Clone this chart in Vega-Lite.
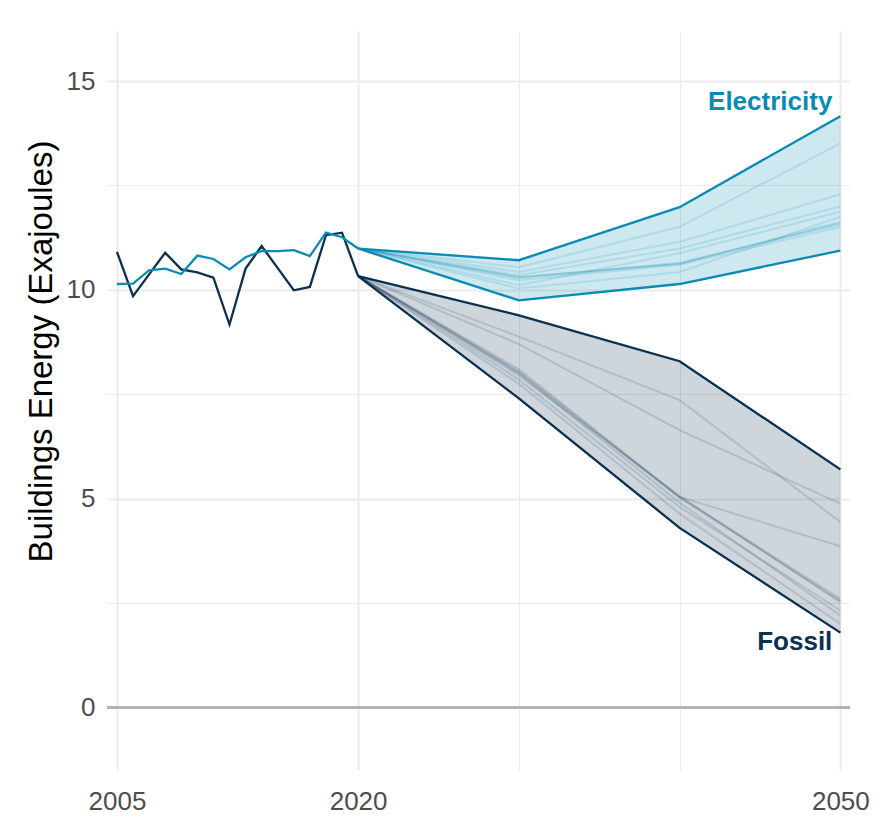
{
  "$schema": "https://vega.github.io/schema/vega-lite/v6.json",
  "width": 743,
  "height": 739,
  "autosize": {"type": "none"},
  "padding": {"left": 107, "top": 31, "right": 41, "bottom": 52},
  "background": "white",
  "config": {"view": {"stroke": null}, "font": "Liberation Sans"},
  "datasets": {
    "hist": [
      {"year": 2005, "type": "Fossil", "value": 10.91},
      {"year": 2006, "type": "Fossil", "value": 9.85},
      {"year": 2007, "type": "Fossil", "value": 10.37},
      {"year": 2008, "type": "Fossil", "value": 10.89},
      {"year": 2009, "type": "Fossil", "value": 10.49},
      {"year": 2010, "type": "Fossil", "value": 10.42},
      {"year": 2011, "type": "Fossil", "value": 10.29},
      {"year": 2012, "type": "Fossil", "value": 9.17},
      {"year": 2013, "type": "Fossil", "value": 10.51},
      {"year": 2014, "type": "Fossil", "value": 11.05},
      {"year": 2015, "type": "Fossil", "value": 10.52},
      {"year": 2016, "type": "Fossil", "value": 9.99},
      {"year": 2017, "type": "Fossil", "value": 10.07},
      {"year": 2018, "type": "Fossil", "value": 11.31},
      {"year": 2019, "type": "Fossil", "value": 11.37},
      {"year": 2020, "type": "Fossil", "value": 10.33},
      {"year": 2005, "type": "Electricity", "value": 10.14},
      {"year": 2006, "type": "Electricity", "value": 10.15},
      {"year": 2007, "type": "Electricity", "value": 10.47},
      {"year": 2008, "type": "Electricity", "value": 10.51},
      {"year": 2009, "type": "Electricity", "value": 10.38},
      {"year": 2010, "type": "Electricity", "value": 10.82},
      {"year": 2011, "type": "Electricity", "value": 10.74},
      {"year": 2012, "type": "Electricity", "value": 10.49},
      {"year": 2013, "type": "Electricity", "value": 10.78},
      {"year": 2014, "type": "Electricity", "value": 10.93},
      {"year": 2015, "type": "Electricity", "value": 10.93},
      {"year": 2016, "type": "Electricity", "value": 10.95},
      {"year": 2017, "type": "Electricity", "value": 10.81},
      {"year": 2018, "type": "Electricity", "value": 11.37},
      {"year": 2019, "type": "Electricity", "value": 11.26},
      {"year": 2020, "type": "Electricity", "value": 10.99}
    ],
    "proj": [
      {"year": 2020, "type": "Electricity", "scenario": "E1", "value": 10.99},
      {"year": 2030, "type": "Electricity", "scenario": "E1", "value": 10.71},
      {"year": 2040, "type": "Electricity", "scenario": "E1", "value": 11.98},
      {"year": 2050, "type": "Electricity", "scenario": "E1", "value": 14.16},
      {"year": 2020, "type": "Electricity", "scenario": "E2", "value": 10.99},
      {"year": 2030, "type": "Electricity", "scenario": "E2", "value": 10.54},
      {"year": 2040, "type": "Electricity", "scenario": "E2", "value": 11.51},
      {"year": 2050, "type": "Electricity", "scenario": "E2", "value": 13.51},
      {"year": 2020, "type": "Electricity", "scenario": "E3", "value": 10.99},
      {"year": 2030, "type": "Electricity", "scenario": "E3", "value": 10.43},
      {"year": 2040, "type": "Electricity", "scenario": "E3", "value": 11.15},
      {"year": 2050, "type": "Electricity", "scenario": "E3", "value": 12.29},
      {"year": 2020, "type": "Electricity", "scenario": "E4", "value": 10.99},
      {"year": 2030, "type": "Electricity", "scenario": "E4", "value": 10.35},
      {"year": 2040, "type": "Electricity", "scenario": "E4", "value": 10.99},
      {"year": 2050, "type": "Electricity", "scenario": "E4", "value": 12.0},
      {"year": 2020, "type": "Electricity", "scenario": "E5", "value": 10.99},
      {"year": 2030, "type": "Electricity", "scenario": "E5", "value": 10.31},
      {"year": 2040, "type": "Electricity", "scenario": "E5", "value": 10.63},
      {"year": 2050, "type": "Electricity", "scenario": "E5", "value": 11.6},
      {"year": 2020, "type": "Electricity", "scenario": "E6", "value": 10.99},
      {"year": 2030, "type": "Electricity", "scenario": "E6", "value": 10.3},
      {"year": 2040, "type": "Electricity", "scenario": "E6", "value": 10.62},
      {"year": 2050, "type": "Electricity", "scenario": "E6", "value": 11.63},
      {"year": 2020, "type": "Electricity", "scenario": "E7", "value": 10.99},
      {"year": 2030, "type": "Electricity", "scenario": "E7", "value": 10.28},
      {"year": 2040, "type": "Electricity", "scenario": "E7", "value": 10.65},
      {"year": 2050, "type": "Electricity", "scenario": "E7", "value": 11.57},
      {"year": 2020, "type": "Electricity", "scenario": "E8", "value": 10.99},
      {"year": 2030, "type": "Electricity", "scenario": "E8", "value": 10.11},
      {"year": 2040, "type": "Electricity", "scenario": "E8", "value": 10.88},
      {"year": 2050, "type": "Electricity", "scenario": "E8", "value": 11.87},
      {"year": 2020, "type": "Electricity", "scenario": "E9", "value": 10.99},
      {"year": 2030, "type": "Electricity", "scenario": "E9", "value": 10.03},
      {"year": 2040, "type": "Electricity", "scenario": "E9", "value": 10.43},
      {"year": 2050, "type": "Electricity", "scenario": "E9", "value": 11.75},
      {"year": 2020, "type": "Electricity", "scenario": "E10", "value": 10.99},
      {"year": 2030, "type": "Electricity", "scenario": "E10", "value": 10.23},
      {"year": 2040, "type": "Electricity", "scenario": "E10", "value": 10.6},
      {"year": 2050, "type": "Electricity", "scenario": "E10", "value": 11.51},
      {"year": 2020, "type": "Electricity", "scenario": "E11", "value": 10.99},
      {"year": 2030, "type": "Electricity", "scenario": "E11", "value": 9.75},
      {"year": 2040, "type": "Electricity", "scenario": "E11", "value": 10.14},
      {"year": 2050, "type": "Electricity", "scenario": "E11", "value": 10.94},
      {"year": 2020, "type": "Fossil", "scenario": "F1", "value": 10.33},
      {"year": 2030, "type": "Fossil", "scenario": "F1", "value": 9.39},
      {"year": 2040, "type": "Fossil", "scenario": "F1", "value": 8.29},
      {"year": 2050, "type": "Fossil", "scenario": "F1", "value": 5.7},
      {"year": 2020, "type": "Fossil", "scenario": "F2", "value": 10.33},
      {"year": 2030, "type": "Fossil", "scenario": "F2", "value": 8.88},
      {"year": 2040, "type": "Fossil", "scenario": "F2", "value": 7.36},
      {"year": 2050, "type": "Fossil", "scenario": "F2", "value": 4.44},
      {"year": 2020, "type": "Fossil", "scenario": "F3", "value": 10.33},
      {"year": 2030, "type": "Fossil", "scenario": "F3", "value": 8.7},
      {"year": 2040, "type": "Fossil", "scenario": "F3", "value": 6.64},
      {"year": 2050, "type": "Fossil", "scenario": "F3", "value": 4.88},
      {"year": 2020, "type": "Fossil", "scenario": "F4", "value": 10.33},
      {"year": 2030, "type": "Fossil", "scenario": "F4", "value": 8.1},
      {"year": 2040, "type": "Fossil", "scenario": "F4", "value": 5.04},
      {"year": 2050, "type": "Fossil", "scenario": "F4", "value": 3.86},
      {"year": 2020, "type": "Fossil", "scenario": "F5", "value": 10.33},
      {"year": 2030, "type": "Fossil", "scenario": "F5", "value": 8.05},
      {"year": 2040, "type": "Fossil", "scenario": "F5", "value": 5.04},
      {"year": 2050, "type": "Fossil", "scenario": "F5", "value": 2.6},
      {"year": 2020, "type": "Fossil", "scenario": "F6", "value": 10.33},
      {"year": 2030, "type": "Fossil", "scenario": "F6", "value": 8.02},
      {"year": 2040, "type": "Fossil", "scenario": "F6", "value": 5.02},
      {"year": 2050, "type": "Fossil", "scenario": "F6", "value": 2.55},
      {"year": 2020, "type": "Fossil", "scenario": "F7", "value": 10.33},
      {"year": 2030, "type": "Fossil", "scenario": "F7", "value": 7.95},
      {"year": 2040, "type": "Fossil", "scenario": "F7", "value": 5.06},
      {"year": 2050, "type": "Fossil", "scenario": "F7", "value": 2.52},
      {"year": 2020, "type": "Fossil", "scenario": "F8", "value": 10.33},
      {"year": 2030, "type": "Fossil", "scenario": "F8", "value": 7.85},
      {"year": 2040, "type": "Fossil", "scenario": "F8", "value": 4.8},
      {"year": 2050, "type": "Fossil", "scenario": "F8", "value": 2.32},
      {"year": 2020, "type": "Fossil", "scenario": "F9", "value": 10.33},
      {"year": 2030, "type": "Fossil", "scenario": "F9", "value": 7.75},
      {"year": 2040, "type": "Fossil", "scenario": "F9", "value": 4.64},
      {"year": 2050, "type": "Fossil", "scenario": "F9", "value": 2.0},
      {"year": 2020, "type": "Fossil", "scenario": "F10", "value": 10.33},
      {"year": 2030, "type": "Fossil", "scenario": "F10", "value": 7.4},
      {"year": 2040, "type": "Fossil", "scenario": "F10", "value": 4.3},
      {"year": 2050, "type": "Fossil", "scenario": "F10", "value": 1.79},
      {"year": 2020, "type": "Fossil", "scenario": "F11", "value": 10.33},
      {"year": 2030, "type": "Fossil", "scenario": "F11", "value": 8.0},
      {"year": 2040, "type": "Fossil", "scenario": "F11", "value": 4.9},
      {"year": 2050, "type": "Fossil", "scenario": "F11", "value": 2.2}
    ],
    "labels": [
      {"type": "Electricity", "year": 2050, "value": 14.5},
      {"type": "Fossil", "year": 2050, "value": 1.56}
    ]
  },
  "layer": [
    {
      "data": {"name": "proj"},
      "transform": [
        {"aggregate": [{"op": "min", "field": "value", "as": "lo"}, {"op": "max", "field": "value", "as": "hi"}], "groupby": ["year", "type"]}
      ],
      "mark": {"type": "area", "opacity": 0.2},
      "encoding": {
        "x": {
          "field": "year", "type": "quantitative",
          "scale": {"domain": [2004.38, 2050.6], "nice": false, "zero": false},
          "axis": {
            "title": null,
            "values": [2005, 2020, 2030, 2040, 2050],
            "labelExpr": "datum.value == 2030 || datum.value == 2040 ? '' : datum.value",
            "domain": false, "ticks": false,
            "labelFontSize": 26, "labelColor": "#4d4d4d", "labelPadding": 18,
            "labelFont": "Liberation Sans",
            "gridColor": "#ebebeb",
            "gridWidth": {"condition": {"test": "datum.value == 2030 || datum.value == 2040", "value": 1}, "value": 2}
          }
        },
        "y": {
          "field": "lo", "type": "quantitative",
          "scale": {"domain": [-1.5, 16.2], "nice": false, "zero": false},
          "title": "Buildings Energy (Exajoules)",
          "axis": {
            "values": [0, 2.5, 5, 7.5, 10, 12.5, 15],
            "labelExpr": "datum.value % 5 == 0 ? datum.label : ''",
            "domain": false, "ticks": false,
            "labelFontSize": 26, "labelColor": "#4d4d4d", "labelPadding": 12,
            "labelFont": "Liberation Sans",
            "titleFontSize": 33, "titleFontWeight": "normal", "titleColor": "#000000",
            "titleFont": "Liberation Sans", "titlePadding": 8, "titleY": 320,
            "gridColor": "#ebebeb",
            "gridWidth": {"condition": {"test": "datum.value % 5 == 0", "value": 2}, "value": 1}
          }
        },
        "y2": {"field": "hi"},
        "color": {"field": "type", "type": "nominal", "scale": {"domain": ["Electricity", "Fossil"], "range": ["#0a8bb5", "#0b3152"]}, "legend": null},
        "detail": {"field": "type"}
      }
    },
    {
      "data": {"name": "proj"},
      "mark": {"type": "rule", "color": "#b3b3b3", "strokeWidth": 2.5},
      "encoding": {"y": {"datum": 0, "type": "quantitative", "title": "Buildings Energy (Exajoules)"}}
    },
    {
      "data": {"name": "proj"},
      "mark": {"type": "line", "opacity": 0.15, "strokeWidth": 2},
      "encoding": {
        "x": {"field": "year", "type": "quantitative"},
        "y": {"field": "value", "type": "quantitative", "title": "Buildings Energy (Exajoules)"},
        "color": {"field": "type", "type": "nominal", "legend": null},
        "detail": {"field": "scenario"}
      }
    },
    {
      "data": {"name": "proj"},
      "transform": [
        {"aggregate": [{"op": "min", "field": "value", "as": "lo"}, {"op": "max", "field": "value", "as": "hi"}], "groupby": ["year", "type"]},
        {"fold": ["lo", "hi"], "as": ["bound", "bv"]}
      ],
      "mark": {"type": "line", "strokeWidth": 2.3},
      "encoding": {
        "x": {"field": "year", "type": "quantitative"},
        "y": {"field": "bv", "type": "quantitative", "title": "Buildings Energy (Exajoules)"},
        "color": {"field": "type", "type": "nominal", "legend": null},
        "detail": {"field": "bound"}
      }
    },
    {
      "data": {"name": "hist"},
      "mark": {"type": "line", "strokeWidth": 2.3},
      "encoding": {
        "x": {"field": "year", "type": "quantitative"},
        "y": {"field": "value", "type": "quantitative", "title": "Buildings Energy (Exajoules)"},
        "color": {"field": "type", "type": "nominal", "legend": null},
        "order": {"field": "year"}
      }
    },
    {
      "data": {"name": "labels"},
      "mark": {"type": "text", "align": "right", "baseline": "middle", "dx": -8, "fontSize": 26, "fontWeight": "bold", "font": "Liberation Sans"},
      "encoding": {
        "x": {"field": "year", "type": "quantitative"},
        "y": {"field": "value", "type": "quantitative", "title": "Buildings Energy (Exajoules)"},
        "text": {"field": "type"},
        "color": {"field": "type", "type": "nominal", "legend": null}
      }
    }
  ]
}
